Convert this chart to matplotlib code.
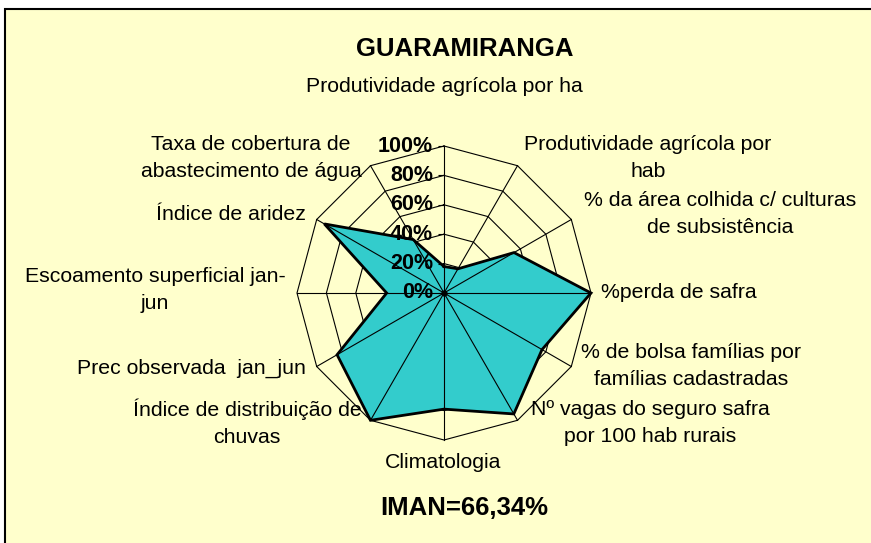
import numpy as np
import matplotlib
matplotlib.use("Agg")
import matplotlib.pyplot as plt
from matplotlib.patches import Rectangle

# ---------------- data ----------------
categories = [
    "Produtividade agrícola por ha",
    "Produtividade agrícola por\nhab",
    "% da área colhida c/ culturas\nde subsistência",
    "%perda de safra",
    "% de bolsa famílias por\nfamílias cadastradas",
    "Nº vagas do seguro safra\npor 100 hab rurais",
    "Climatologia",
    "Índice de distribuição de\nchuvas",
    "Prec observada  jan_jun",
    "Escoamento superficial jan-\njun",
    "Índice de aridez",
    "Taxa de cobertura de\nabastecimento de água",
]
values = [18, 19, 55, 100, 77, 95, 79, 100, 84, 39, 94, 42]
tick_values = [0, 20, 40, 60, 80, 100]
tick_labels = ["0%", "20%", "40%", "60%", "80%", "100%"]
title = "GUARAMIRANGA"
footer = "IMAN=66,34%"

# ---------------- layout (pixels) ----------------
W, H = 871, 543
label_pos = [
    (444, 87, "center"),
    (648, 158, "center"),
    (720, 214, "center"),
    (601, 293, "left"),
    (691, 366, "center"),
    (650, 423, "center"),
    (443, 463, "center"),
    (247, 423, "center"),
    (191, 368, "center"),
    (155, 290, "center"),
    (231, 215, "center"),
    (251, 158, "center"),
]
cx, cy, R = 444, 293, 147

plt.rcParams['font.family'] = ['Liberation Sans', 'DejaVu Sans']

fig = plt.figure(figsize=(W / 100, H / 100), dpi=100)
fig.patch.set_facecolor("white")

bg = Rectangle((5 / W, -0.1), 1.2, 1 - 9 / H + 0.1, transform=fig.transFigure,
               facecolor="#FFFFCC", edgecolor="black", linewidth=1.5, zorder=-10)
fig.patches.append(bg)

ax = fig.add_axes([(cx - R) / W, (H - cy - R) / H, 2 * R / W, 2 * R / H],
                  projection="polar")
ax.set_theta_zero_location("N")
ax.set_theta_direction(-1)
ax.set_ylim(0, 100)
ax.axis("off")
ax.patch.set_alpha(0)
ax.set_zorder(1)

n = len(categories)
theta = np.arange(n) * 2 * np.pi / n
theta_c = np.append(theta, theta[0])

# polygon gridlines
for v in tick_values[1:]:
    ax.plot(theta_c, [v] * (n + 1), color="black", lw=0.8, clip_on=False, zorder=1)

# data polygon
vals_c = np.append(values, values[0])
ax.fill(theta_c, vals_c, facecolor="#33CCCC", edgecolor="none", zorder=2, clip_on=False)

# spokes
for t in theta:
    ax.plot([t, t], [0, 100], color="black", lw=0.8, clip_on=False, zorder=3)

ax.plot(theta_c, vals_c, color="black", lw=2, clip_on=False, zorder=4, solid_joinstyle="miter")

# center dot and tick marks
ax.plot([0], [0], marker="o", markersize=3.5, color="black", zorder=5, clip_on=False)
ax.plot(np.zeros(len(tick_values)), tick_values, linestyle="none", marker=0,
        markersize=4, markeredgewidth=0.8, color="black", zorder=5, clip_on=False)

for v, lab in zip(tick_values, tick_labels):
    ax.annotate(lab, xy=(0, v), xytext=(-11, 0), textcoords="offset pixels",
                ha="right", va="center", fontsize=15.5, fontweight="bold",
                zorder=6, annotation_clip=False)

for lab, (x, y, ha) in zip(categories, label_pos):
    fig.text(x / W, 1 - y / H, lab, ha=ha, va="center", fontsize=15.3,
             linespacing=1.55, multialignment="center")

fig.text(465 / W, 1 - 49 / H, title, ha="center", va="center", fontsize=18.5,
         fontweight="bold")
fig.text(464 / W, 1 - 508 / H, footer, ha="center", va="center", fontsize=18.5,
         fontweight="bold")

fig.savefig("out.png", dpi=100)
